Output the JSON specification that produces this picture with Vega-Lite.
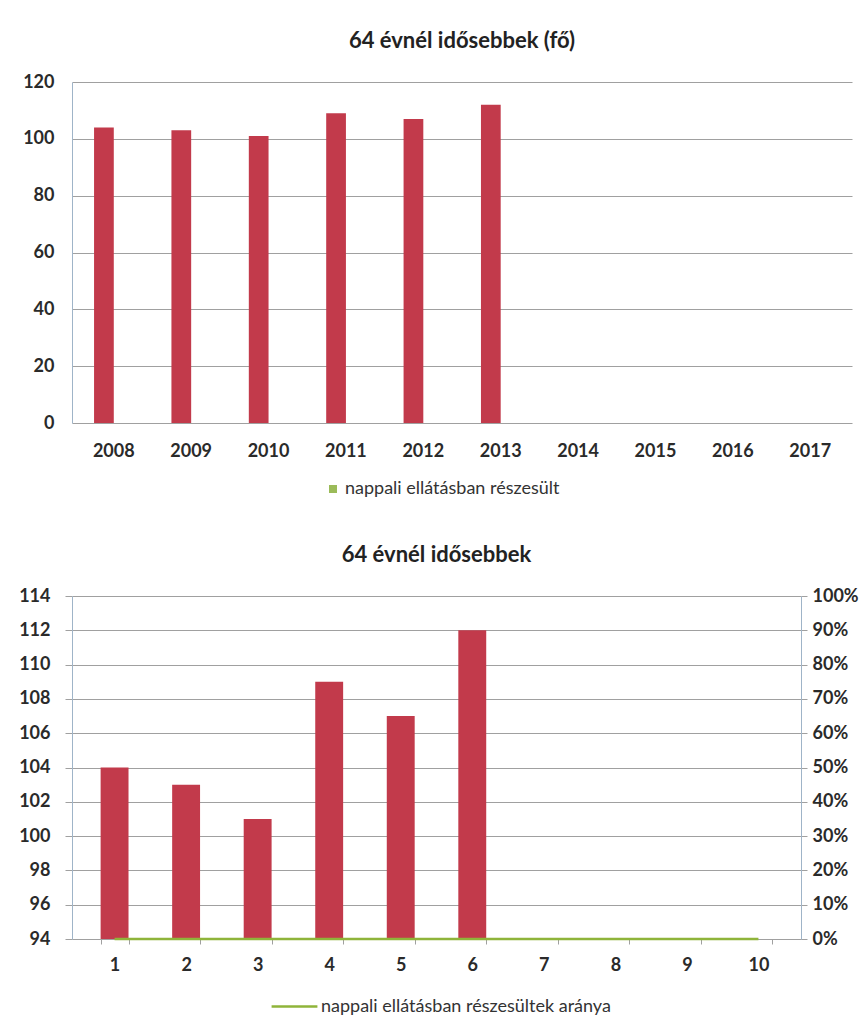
{
  "$schema": "https://vega.github.io/schema/vega-lite/v6.json",
  "background": "white",
  "padding": {"left": 18, "top": 30, "right": 0, "bottom": 0},
  "spacing": 46,
  "config": {
    "view": {"stroke": null},
    "font": "Lato",
    "title": {"font": "Lato", "fontSize": 22, "fontWeight": "bold", "color": "#222222", "anchor": "middle"},
    "axis": {
      "labelFont": "Lato", "labelFontSize": 18, "labelColor": "#2a2a2a", "labelFontWeight": "bold",
      "gridColor": "#a0a0a0", "gridWidth": 1, "domainColor": "#9fb4c8", "tickColor": "#a0a0a0", "title": null
    },
    "legend": {"labelFont": "Lato", "labelFontSize": 18, "labelColor": "#333333", "labelLimit": 0}
  },
  "resolve": {"scale": {"color": "independent"}, "legend": {"color": "independent"}},
  "vconcat": [
    {
      "title": {"text": "64 évnél idősebbek (fő)", "offset": 20},
      "width": 780,
      "height": 341,
      "data": {"values": [
        {"ev": "2008", "fo": 104, "sorozat": "64 évnél idősebbek (fő)"},
        {"ev": "2009", "fo": 103, "sorozat": "64 évnél idősebbek (fő)"},
        {"ev": "2010", "fo": 101, "sorozat": "64 évnél idősebbek (fő)"},
        {"ev": "2011", "fo": 109, "sorozat": "64 évnél idősebbek (fő)"},
        {"ev": "2012", "fo": 107, "sorozat": "64 évnél idősebbek (fő)"},
        {"ev": "2013", "fo": 112, "sorozat": "64 évnél idősebbek (fő)"},
        {"ev": "2014", "fo": null, "sorozat": "64 évnél idősebbek (fő)"},
        {"ev": "2015", "fo": null, "sorozat": "64 évnél idősebbek (fő)"},
        {"ev": "2016", "fo": null, "sorozat": "64 évnél idősebbek (fő)"},
        {"ev": "2017", "fo": null, "sorozat": "64 évnél idősebbek (fő)"}
      ]},
      "mark": {"type": "bar"},
      "encoding": {
        "x": {
          "field": "ev", "type": "ordinal",
          "scale": {"domain": ["2008","2009","2010","2011","2012","2013","2014","2015","2016","2017"], "paddingInner": 0.49, "paddingOuter": 0.285},
          "axis": {"labelAngle": 0, "ticks": false, "domain": false, "labelPadding": 19}
        },
        "xOffset": {
          "field": "sorozat", "type": "nominal",
          "scale": {"domain": ["64 évnél idősebbek (fő)", "nappali ellátásban részesült"], "paddingInner": 0, "paddingOuter": 0}
        },
        "y": {
          "field": "fo", "type": "quantitative",
          "scale": {"domain": [0, 120]},
          "axis": {"values": [0, 20, 40, 60, 80, 100, 120], "grid": true, "ticks": false, "labelPadding": 18, "domain": true}
        },
        "color": {
          "field": "sorozat", "type": "nominal",
          "scale": {"domain": ["64 évnél idősebbek (fő)", "nappali ellátásban részesült"], "range": ["#c23a4b", "#9bbb59"]},
          "legend": {
            "orient": "none", "legendX": 252, "legendY": 398, "title": null,
            "values": ["nappali ellátásban részesült"],
            "symbolType": "square", "symbolSize": 64, "symbolStrokeWidth": 0, "labelOffset": 3
          }
        }
      }
    },
    {
      "title": {"text": "64 évnél idősebbek", "offset": 20},
      "width": 729,
      "height": 343,
      "data": {"values": [
        {"n": 1, "fo": 104, "arany": 0},
        {"n": 2, "fo": 103, "arany": 0},
        {"n": 3, "fo": 101, "arany": 0},
        {"n": 4, "fo": 109, "arany": 0},
        {"n": 5, "fo": 107, "arany": 0},
        {"n": 6, "fo": 112, "arany": 0},
        {"n": 7, "fo": null, "arany": 0},
        {"n": 8, "fo": null, "arany": 0},
        {"n": 9, "fo": null, "arany": 0},
        {"n": 10, "fo": null, "arany": 0}
      ]},
      "encoding": {
        "x": {
          "field": "n", "type": "ordinal",
          "scale": {"domain": [1,2,3,4,5,6,7,8,9,10], "paddingInner": 0.61, "paddingOuter": 0.4},
          "axis": {"labelAngle": 0, "tickBand": "extent", "tickSize": 5, "domain": true, "domainColor": "#a0a0a0", "labelPadding": 12}
        }
      },
      "layer": [
        {
          "mark": {"type": "bar", "color": "#c23a4b"},
          "encoding": {
            "y": {
              "field": "fo", "type": "quantitative",
              "scale": {"domain": [94, 114], "zero": false},
              "axis": {"values": [94,96,98,100,102,104,106,108,110,112,114], "grid": true, "tickSize": 7, "labelPadding": 15, "domain": true}
            },
            "y2": {"datum": 94}
          }
        },
        {
          "mark": {"type": "line", "strokeWidth": 2.5},
          "encoding": {
            "y": {
              "field": "arany", "type": "quantitative",
              "scale": {"domain": [0, 1]},
              "axis": {"orient": "right", "format": ".0%", "values": [0,0.1,0.2,0.3,0.4,0.5,0.6,0.7,0.8,0.9,1], "grid": false, "tickSize": 6, "labelPadding": 5, "domain": true}
            },
            "color": {
              "datum": "nappali ellátásban részesültek aránya",
              "scale": {"range": ["#8fb43a"]},
              "legend": {
                "orient": "none", "legendX": 198, "legendY": 386, "title": null,
                "symbolType": "stroke", "symbolSize": 2100, "symbolStrokeWidth": 2.5, "labelOffset": 2
              }
            }
          }
        }
      ],
      "resolve": {"scale": {"y": "independent"}}
    }
  ]
}
